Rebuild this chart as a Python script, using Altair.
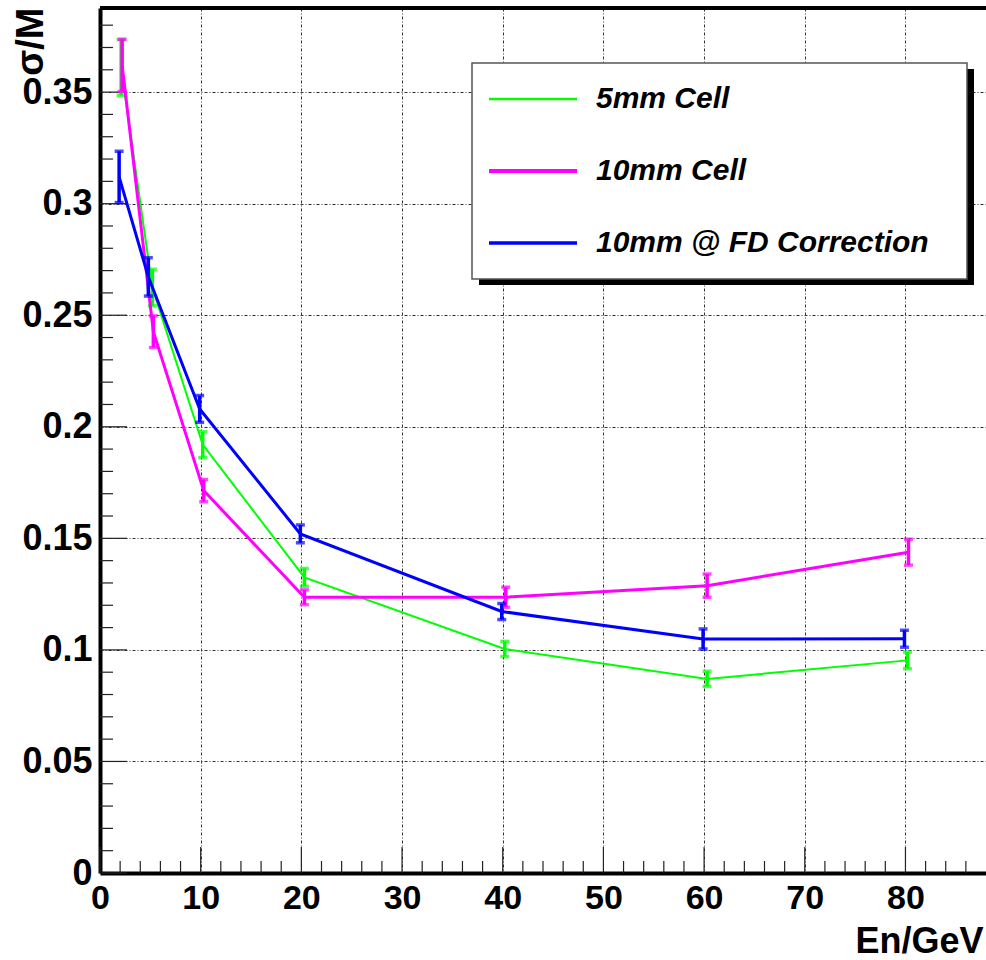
import altair as alt
import pandas as pd

# ---------------- data ----------------
series_names = ["5mm Cell", "10mm Cell", "10mm @ FD Correction"]
series_colors = ["#00ff00", "#ff00ff", "#0000ff"]
series_widths = [2, 3, 3]

energy_5mm = [2.1, 5.2, 10.2, 20.3, 40.2, 60.3, 80.2]
sigma_5mm = [0.361, 0.2624, 0.192, 0.1325, 0.1004, 0.0870, 0.0953]
err_5mm = [0.0125, 0.0082, 0.0058, 0.0040, 0.0034, 0.0034, 0.0037]

energy_10mm = [2.2, 5.3, 10.3, 20.3, 40.3, 60.3, 80.3]
sigma_10mm = [0.362, 0.2426, 0.1714, 0.1236, 0.1236, 0.1288, 0.1438]
err_10mm = [0.0117, 0.0071, 0.0050, 0.0033, 0.0045, 0.0052, 0.0058]

energy_fd = [1.9, 4.8, 9.9, 19.9, 39.9, 59.9, 79.9]
sigma_fd = [0.312, 0.2672, 0.2080, 0.1520, 0.1172, 0.1049, 0.1050]
err_fd = [0.0115, 0.0086, 0.0060, 0.0040, 0.0036, 0.0045, 0.0038]

x_major = [0, 10, 20, 30, 40, 50, 60, 70, 80]
x_minor = [v for v in range(2, 88, 2) if v % 10 != 0]
y_major = [0, 0.05, 0.1, 0.15, 0.2, 0.25, 0.3, 0.35]
y_minor = [round(v / 100, 2) for v in range(1, 39) if v % 5 != 0]

# ---------------- layout ----------------
W, H = 886, 865
FONT = "Liberation Sans"

energies = [energy_5mm, energy_10mm, energy_fd]
sigmas = [sigma_5mm, sigma_10mm, sigma_fd]
errs = [err_5mm, err_10mm, err_fd]

frames = []
for name, e, s, d in zip(series_names, energies, sigmas, errs):
    frames.append(pd.DataFrame({
        "series": name, "E": e, "sigma": s,
        "lo": [a - b for a, b in zip(s, d)],
        "hi": [a + b for a, b in zip(s, d)],
    }))
df = pd.concat(frames, ignore_index=True)

xs = alt.Scale(domain=[0, 88], nice=False, zero=False)
ys = alt.Scale(domain=[0, 0.3877], nice=False, zero=False)

x_axis = alt.Axis(
    values=x_major, format="d", labelFont=FONT, labelFontSize=34,
    labelFontWeight="bold", labelColor="black", labelPadding=8,
    labelFlush=False, labelOverlap=False,
    ticks=False, tickSize=0, domainColor="black", domainWidth=4,
    grid=True, gridColor="#333333", gridDash=[3, 2, 1, 2], gridWidth=1,
    title="En/GeV", titleFont=FONT, titleFontSize=36, titleFontWeight="bold",
    titleColor="black", titleAlign="right", titleAnchor="end",
    titleBaseline="alphabetic", titleX=883, titleY=79,
)
y_axis = alt.Axis(
    values=y_major, format="~g", labelFont=FONT, labelFontSize=36,
    labelFontWeight="bold", labelColor="black", labelPadding=8,
    labelFlush=False, labelOverlap=False,
    ticks=False, tickSize=0, domainColor="black", domainWidth=4,
    grid=True, gridColor="#333333", gridDash=[3, 2, 1, 2], gridWidth=1,
    title="σ/M", titleFont=FONT, titleFontSize=38, titleFontWeight="bold",
    titleColor="black", titleAngle=270, titleAlign="right",
    titleBaseline="alphabetic", titleX=-58, titleY=-1,
)


def X(field):
    return alt.X(field, type="quantitative", scale=xs, axis=x_axis)


def Y(field):
    return alt.Y(field, type="quantitative", scale=ys, axis=y_axis)


layers = []

# inward ticks on the axes
tick_color = "#222222"
layers.append(alt.Chart(pd.DataFrame({"v": x_major})).mark_rule(color=tick_color, strokeWidth=1.2)
              .encode(x=X("v"), y=alt.value(H), y2=alt.value(H - 26)))
layers.append(alt.Chart(pd.DataFrame({"v": x_minor})).mark_rule(color=tick_color, strokeWidth=1.2)
              .encode(x=X("v"), y=alt.value(H), y2=alt.value(H - 12)))
layers.append(alt.Chart(pd.DataFrame({"v": y_major})).mark_rule(color=tick_color, strokeWidth=1.2)
              .encode(y=Y("v"), x=alt.value(0), x2=alt.value(27)))
layers.append(alt.Chart(pd.DataFrame({"v": y_minor})).mark_rule(color=tick_color, strokeWidth=1.2)
              .encode(y=Y("v"), x=alt.value(0), x2=alt.value(13)))

# top frame line
layers.append(alt.Chart(pd.DataFrame({"v": [0]})).mark_rule(color="black", strokeWidth=4)
              .encode(x=alt.value(0), x2=alt.value(W), y=alt.value(0)))

# data series
for name, color, sw in zip(series_names, series_colors, series_widths):
    base = alt.Chart(df).transform_filter(alt.datum.series == name)
    layers.append(base.mark_line(color=color, strokeWidth=sw).encode(x=X("E"), y=Y("sigma")))
    layers.append(base.mark_rule(color=color, strokeWidth=3.5).encode(x=X("E"), y=Y("lo"), y2=alt.Y2("hi")))
    layers.append(base.mark_tick(color=color, orient="horizontal", size=9, thickness=3.5)
                  .encode(x=X("E"), y=Y("lo")))
    layers.append(base.mark_tick(color=color, orient="horizontal", size=9, thickness=3.5)
                  .encode(x=X("E"), y=Y("hi")))

# legend box (drawn by hand to get ROOT look)
one = pd.DataFrame({"v": [0]})
layers.append(alt.Chart(one).mark_rect(color="black")
              .encode(x=alt.value(379), x2=alt.value(874), y=alt.value(61), y2=alt.value(277)))
layers.append(alt.Chart(one).mark_rect(fill="white", stroke="#555555", strokeWidth=1.5)
              .encode(x=alt.value(372), x2=alt.value(867), y=alt.value(55), y2=alt.value(271)))
row_y = [91, 163, 235]
legend_sw = [2.7, 3.8, 3.3]
for name, color, lsw, ry in zip(series_names, series_colors, legend_sw, row_y):
    layers.append(alt.Chart(one).mark_rule(color=color, strokeWidth=lsw)
                  .encode(x=alt.value(389), x2=alt.value(477), y=alt.value(ry)))
    layers.append(alt.Chart(one).mark_text(font=FONT, fontSize=30, fontWeight="bold", fontStyle="italic",
                                           color="black", align="left", baseline="middle")
                  .encode(x=alt.value(496), y=alt.value(ry), text=alt.value(name)))

chart = alt.layer(*layers).properties(
    width=W, height=H,
    autosize=alt.AutoSizeParams(type="none"),
    padding={"left": 100, "top": 8, "right": 0, "bottom": 87},
    background="white",
).configure_view(stroke=None)

chart.save("out.html", embed_options={"renderer": "svg", "actions": False})
